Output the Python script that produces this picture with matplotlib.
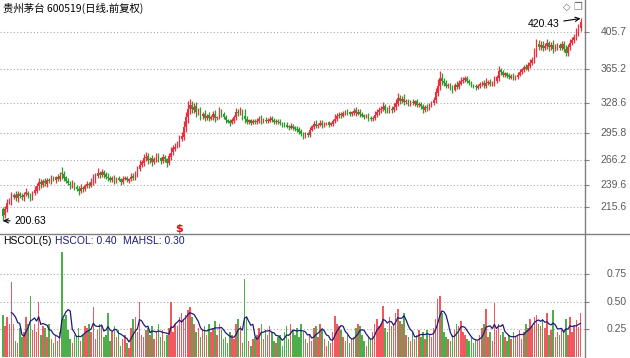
import matplotlib
matplotlib.use("Agg")
import matplotlib.pyplot as plt
import matplotlib.lines as mlines
import numpy as np
import pandas as pd
from matplotlib.transforms import blended_transform_factory

# The chart copies a trading-software screen, so the layout is kept in pixels
FIG_W, FIG_H = 630, 358
PLOT_RIGHT = 585      # x of the price scale divider
SPLIT_Y = 234         # y of the line between candles and indicator
FIRST_X = 3           # x of the first candle
BAR_STEP = 2.1        # pixels per trading day
LABEL_RIGHT = 627     # right edge of the scale labels

TITLE = "贵州茅台 600519(日线.前复权)"
IND_NAME = "HSCOL(5)"

closes = [
    206.0, 213.5, 219.8, 222.4, 226.9, 228.6, 225.3, 229.8, 227.1, 226.4,
    229.2, 231.5, 228.7, 226.3, 230.1, 233.8, 238.6, 242.9, 240.5, 243.7,
    241.2, 244.8, 243.9, 246.5, 245.1, 247.9, 246.3, 249.6, 251.2, 247.4,
    244.0, 241.6, 239.2, 240.8, 237.5, 235.3, 233.1, 236.4, 235.0, 238.6,
    240.2, 239.1, 242.8, 245.7, 249.3, 252.4, 250.1, 253.6, 250.8, 248.2,
    247.3, 244.9, 246.6, 243.8, 246.2, 245.4, 243.1, 245.9, 247.2, 244.6,
    246.1, 248.5, 247.0, 251.9, 257.3, 260.8, 264.1, 268.9, 270.4, 266.7,
    268.3, 264.9, 267.4, 270.8, 268.2, 265.5, 270.1, 267.3, 263.9, 270.6,
    274.8, 279.5, 281.2, 284.7, 288.9, 292.3, 302.6, 313.8, 322.4, 326.1,
    321.7, 324.8, 318.3, 320.6, 314.2, 316.9, 312.5, 314.8, 311.9, 313.4,
    316.2, 312.0, 313.1, 318.6, 316.4, 313.2, 309.8, 308.5, 307.2, 309.6,
    313.5, 318.9, 318.1, 320.3, 314.6, 311.2, 308.4, 309.7, 307.1, 308.8,
    307.9, 309.5, 311.3, 308.6, 310.2, 309.0, 309.8, 311.6, 310.4, 307.9,
    309.1, 308.2, 306.8, 305.1, 304.3, 303.0, 302.1, 303.4, 301.8, 300.2,
    299.6, 297.4, 295.1, 293.0, 295.3, 294.2, 299.8, 303.1, 305.6, 303.9,
    305.2, 306.8, 304.5, 305.9, 307.3, 305.0, 306.4, 309.2, 311.7, 314.3,
    316.0, 315.2, 317.8, 319.5, 318.1, 316.6, 318.4, 320.2, 317.5, 318.7,
    316.3, 314.9, 313.8, 315.6, 312.4, 311.0, 312.2, 315.9, 318.6, 320.9,
    322.4, 324.7, 321.5, 320.3, 322.1, 320.8, 324.6, 328.3, 333.5, 331.2,
    332.6, 329.8, 330.4, 327.6, 329.9, 328.1, 330.3, 326.7, 327.2, 324.9,
    321.6, 324.3, 323.0, 326.1, 328.4, 331.7, 340.2, 347.5, 355.3, 352.1,
    350.4, 347.6, 348.2, 345.3, 343.6, 347.9, 346.1, 349.8, 352.6, 354.0,
    355.4, 352.7, 350.1, 348.3, 347.0, 345.6, 347.2, 348.9, 349.7, 347.8,
    350.2, 351.6, 349.4, 350.8, 352.3, 356.5, 363.9, 361.8, 359.4, 360.7,
    358.1, 356.4, 358.3, 355.9, 357.2, 359.5, 362.8, 365.1, 367.3, 366.0,
    369.4, 372.1, 375.3, 383.8, 392.4, 389.6, 391.8, 388.7, 390.9, 393.5,
    389.2, 391.4, 387.3, 389.8, 391.0, 388.6, 392.2, 386.9, 383.4, 389.7,
    393.8, 397.2, 400.3, 405.6, 410.8, 416.2,
]

opens = [
    214.0, 206.5, 213.0, 220.5, 222.0, 227.0, 228.9, 225.0, 230.2, 227.5,
    226.0, 229.6, 231.0, 228.9, 226.0, 230.5, 233.4, 238.0, 243.3, 240.0,
    244.0, 241.0, 245.2, 243.5, 246.8, 245.0, 248.3, 246.0, 252.4, 251.5,
    247.8, 244.3, 241.0, 239.0, 241.2, 237.8, 235.6, 233.0, 236.8, 234.8,
    238.2, 240.6, 238.8, 242.5, 245.3, 249.0, 252.8, 250.0, 254.0, 251.0,
    248.6, 247.5, 244.5, 246.9, 243.5, 246.6, 245.7, 243.0, 246.0, 247.5,
    244.3, 246.0, 248.8, 246.8, 251.6, 257.0, 261.0, 263.8, 268.5, 270.9,
    266.5, 268.7, 264.5, 267.0, 271.2, 268.5, 265.3, 270.4, 267.8, 263.5,
    270.3, 275.0, 279.0, 281.5, 284.0, 289.5, 292.0, 302.0, 313.0, 321.8,
    326.5, 321.0, 325.2, 318.0, 321.0, 314.0, 317.2, 312.2, 315.3, 311.5,
    313.0, 316.5, 311.8, 313.4, 318.9, 316.8, 313.5, 310.0, 308.8, 307.0,
    309.4, 313.2, 318.6, 317.8, 320.1, 314.9, 311.5, 308.1, 310.0, 307.2,
    309.0, 307.6, 309.3, 311.6, 308.4, 310.5, 308.8, 309.5, 311.9, 310.6,
    307.6, 309.4, 308.5, 307.2, 305.5, 304.6, 303.3, 301.9, 303.6, 302.0,
    300.5, 299.9, 297.7, 295.4, 292.8, 295.6, 294.0, 299.5, 303.0, 305.8,
    303.6, 305.0, 307.1, 304.2, 305.6, 307.6, 304.8, 306.1, 309.0, 311.5,
    314.0, 316.3, 315.0, 317.5, 319.8, 318.4, 316.3, 318.0, 320.5, 317.2,
    319.0, 316.6, 315.2, 313.5, 315.9, 312.7, 310.7, 312.0, 315.5, 318.3,
    320.6, 322.0, 325.0, 321.8, 320.0, 322.5, 320.5, 324.3, 328.0, 333.8,
    331.0, 332.9, 329.6, 330.8, 327.4, 330.2, 327.8, 330.6, 326.5, 327.5,
    325.2, 321.3, 324.6, 322.8, 326.0, 328.6, 331.5, 340.0, 347.2, 355.8,
    352.4, 350.8, 347.3, 348.5, 345.6, 343.2, 348.3, 345.8, 349.5, 352.9,
    353.8, 355.6, 352.9, 350.4, 348.0, 347.3, 345.3, 347.0, 349.2, 350.0,
    347.5, 350.5, 351.8, 349.2, 350.6, 352.0, 356.3, 364.2, 362.0, 359.0,
    360.9, 358.5, 356.0, 358.6, 355.6, 357.0, 359.2, 362.5, 365.0, 367.6,
    365.7, 369.0, 371.8, 375.0, 383.5, 392.8, 389.2, 392.0, 388.5, 390.6,
    393.8, 389.0, 391.6, 387.0, 389.6, 391.3, 388.3, 392.5, 387.1, 383.0,
    389.5, 393.5, 397.0, 400.0, 405.3, 410.5,
]

# shadow lengths above the body top and below the body bottom
upper_shadow = [
    2.0, 3.6, 4.4, 2.8, 5.2, 2.4, 4.0, 3.0, 1.8, 3.2,
    2.6, 4.8, 2.2, 1.6, 3.4, 4.4, 2.8, 4.0, 2.4, 2.0,
    3.0, 2.2, 1.8, 3.6, 2.6, 1.4, 3.2, 4.2, 6.4, 2.8,
    1.8, 2.4, 3.0, 4.0, 1.6, 2.2, 2.6, 3.8, 1.4, 2.4,
    3.2, 2.0, 4.4, 5.6, 2.8, 5.2, 2.2, 3.6, 1.8, 2.6,
    4.4, 1.6, 2.8, 3.4, 2.0, 2.4, 1.2, 3.0, 2.2, 1.8,
    1.4, 3.6, 4.0, 3.2, 2.4, 6.2, 2.8, 3.8, 4.6, 3.0,
    2.0, 3.4, 2.4, 4.0, 2.8, 1.8, 3.2, 2.2, 1.6, 3.8,
    5.6, 3.0, 3.8, 2.6, 4.8, 4.4, 6.0, 5.2, 8.4, 7.0,
    4.8, 3.6, 4.4, 2.8, 3.2, 2.2, 3.8, 1.6, 3.0, 2.4,
    3.4, 4.6, 1.8, 5.2, 2.8, 2.0, 2.4, 1.4, 2.2, 3.0,
    2.6, 4.8, 4.0, 3.6, 2.4, 6.8, 3.4, 1.8, 1.6, 2.2,
    2.0, 2.6, 3.2, 4.4, 1.6, 2.8, 2.2, 3.4, 2.4, 1.8,
    1.6, 2.2, 2.8, 1.2, 2.4, 3.0, 1.8, 3.6, 2.6, 2.0,
    2.8, 2.4, 3.2, 2.2, 1.8, 1.4, 2.6, 1.6, 3.2, 3.8,
    2.2, 3.4, 2.6, 1.8, 1.2, 1.6, 1.4, 2.4, 4.8, 3.6,
    3.2, 2.6, 2.0, 1.8, 2.4, 1.6, 2.0, 2.6, 3.4, 3.8,
    3.6, 2.4, 1.8, 1.4, 2.0, 1.8, 2.6, 3.6, 4.0, 3.2,
    3.4, 5.2, 3.0, 2.4, 4.2, 3.2, 3.6, 4.8, 5.8, 3.4,
    3.2, 5.0, 2.2, 2.0, 1.8, 2.6, 2.0, 2.4, 3.0, 2.2,
    2.8, 1.8, 3.0, 2.4, 2.2, 3.2, 4.6, 6.8, 7.6, 5.2,
    3.0, 2.4, 2.0, 1.8, 2.4, 2.8, 3.8, 3.4, 4.0, 3.0,
    2.6, 2.0, 1.6, 2.2, 1.4, 2.0, 1.6, 2.4, 3.2, 3.8,
    5.4, 2.2, 2.8, 2.0, 6.0, 3.0, 4.4, 2.6, 2.8, 2.0,
    1.8, 2.6, 2.0, 2.8, 2.2, 2.4, 3.0, 2.0, 2.8, 3.8,
    3.4, 4.2, 3.6, 5.0, 5.6, 4.0, 3.8, 4.4, 3.2, 4.8,
    2.6, 3.0, 5.2, 2.4, 2.8, 2.6, 3.4, 3.0, 4.4, 2.8,
    4.6, 3.0, 3.6, 4.2, 3.2, 4.23,
]

lower_shadow = [
    5.37, 2.4, 3.2, 2.0, 4.0, 2.6, 3.4, 4.4, 2.2, 2.8,
    3.6, 2.0, 3.0, 4.6, 2.4, 1.8, 2.8, 3.6, 4.0, 2.2,
    2.4, 3.2, 2.0, 2.6, 1.6, 3.0, 2.2, 1.8, 4.8, 3.4,
    2.8, 2.0, 3.6, 2.4, 3.0, 2.2, 4.0, 1.8, 2.6, 2.0,
    2.4, 3.2, 1.8, 2.8, 3.6, 2.2, 3.0, 2.0, 3.4, 2.6,
    3.8, 2.4, 1.6, 3.0, 2.2, 1.8, 3.2, 2.4, 1.4, 2.0,
    2.8, 1.8, 2.4, 2.0, 3.2, 2.6, 2.2, 3.6, 3.0, 4.0,
    2.6, 4.2, 2.0, 2.4, 3.4, 2.8, 1.8, 3.0, 4.4, 2.2,
    3.2, 2.4, 2.8, 2.0, 3.4, 2.6, 4.0, 5.0, 6.0, 5.6,
    4.4, 3.0, 5.2, 2.6, 3.6, 2.4, 3.2, 2.2, 2.8, 1.8,
    2.4, 3.6, 2.0, 2.6, 3.0, 2.2, 2.8, 2.0, 3.2, 1.6,
    2.2, 2.8, 3.4, 2.4, 4.0, 4.4, 2.6, 2.0, 2.4, 1.8,
    2.2, 1.6, 2.0, 2.4, 1.8, 2.6, 1.4, 2.0, 2.8, 2.2,
    1.8, 2.4, 1.6, 2.2, 2.0, 1.4, 2.6, 1.8, 2.4, 2.0,
    2.6, 3.0, 2.2, 3.6, 2.4, 2.0, 2.8, 1.8, 2.4, 2.6,
    2.0, 1.6, 2.8, 1.8, 1.4, 2.2, 1.6, 2.0, 2.6, 2.4,
    2.2, 3.0, 1.8, 2.4, 2.0, 2.6, 1.6, 2.2, 2.8, 1.8,
    2.6, 2.0, 2.8, 1.6, 3.2, 2.4, 1.8, 2.0, 2.4, 2.2,
    3.0, 2.6, 3.6, 2.4, 2.0, 2.8, 2.2, 3.2, 2.6, 4.0,
    2.4, 3.4, 2.0, 2.6, 1.8, 2.2, 2.8, 2.0, 2.4, 3.2,
    3.6, 2.2, 2.6, 2.0, 1.8, 2.4, 3.0, 4.2, 4.8, 4.0,
    3.2, 2.8, 2.2, 2.6, 3.6, 2.0, 2.4, 2.2, 1.8, 2.6,
    2.2, 2.8, 2.4, 2.0, 2.6, 3.0, 2.0, 1.6, 2.2, 2.4,
    2.8, 2.0, 2.4, 1.8, 3.2, 2.2, 3.6, 2.8, 2.4, 2.0,
    2.6, 2.2, 1.8, 2.8, 2.0, 2.4, 1.6, 2.2, 2.6, 2.0,
    2.4, 2.8, 2.2, 3.2, 4.4, 3.6, 3.0, 4.0, 2.6, 3.2,
    3.8, 2.8, 4.6, 2.4, 3.0, 2.2, 2.6, 3.2, 4.2, 2.8,
    3.0, 2.4, 3.4, 2.8, 3.8, 3.2,
]

# daily turnover indicator (HSCOL)
hscol = [
    0.38, 0.28, 0.36, 0.30, 0.68, 0.30, 0.14, 0.12, 0.26, 0.18,
    0.22, 0.36, 0.30, 0.55, 0.24, 0.30, 0.22, 0.50, 0.20, 0.28,
    0.26, 0.18, 0.30, 0.16, 0.12, 0.20, 0.14, 0.22, 0.95, 0.34,
    0.38, 0.24, 0.16, 0.12, 0.20, 0.18, 0.26, 0.14, 0.20, 0.28,
    0.26, 0.30, 0.22, 0.45, 0.16, 0.24, 0.30, 0.28, 0.18, 0.20,
    0.40, 0.14, 0.22, 0.28, 0.18, 0.24, 0.10, 0.16, 0.20, 0.12,
    0.08, 0.26, 0.34, 0.36, 0.22, 0.50, 0.20, 0.18, 0.24, 0.26,
    0.20, 0.28, 0.16, 0.22, 0.30, 0.18, 0.24, 0.14, 0.20, 0.26,
    0.50, 0.22, 0.30, 0.28, 0.36, 0.40, 0.34, 0.38, 0.42, 0.45,
    0.36, 0.30, 0.22, 0.26, 0.18, 0.24, 0.28, 0.20, 0.30, 0.22,
    0.26, 0.32, 0.20, 0.30, 0.24, 0.16, 0.18, 0.12, 0.22, 0.20,
    0.16, 0.30, 0.34, 0.28, 0.12, 0.70, 0.36, 0.14, 0.10, 0.16,
    0.18, 0.20, 0.26, 0.30, 0.16, 0.24, 0.20, 0.28, 0.22, 0.14,
    0.12, 0.18, 0.20, 0.10, 0.22, 0.28, 0.16, 0.30, 0.24, 0.20,
    0.26, 0.18, 0.30, 0.22, 0.16, 0.12, 0.20, 0.14, 0.26, 0.28,
    0.18, 0.30, 0.24, 0.16, 0.10, 0.14, 0.12, 0.22, 0.37, 0.30,
    0.28, 0.24, 0.18, 0.14, 0.20, 0.12, 0.16, 0.18, 0.26, 0.30,
    0.28, 0.20, 0.14, 0.10, 0.18, 0.16, 0.22, 0.30, 0.34, 0.28,
    0.30, 0.46, 0.26, 0.22, 0.36, 0.28, 0.30, 0.40, 0.43, 0.32,
    0.30, 0.40, 0.20, 0.18, 0.14, 0.22, 0.16, 0.20, 0.24, 0.18,
    0.22, 0.16, 0.24, 0.20, 0.18, 0.26, 0.34, 0.52, 0.55, 0.40,
    0.22, 0.18, 0.16, 0.14, 0.20, 0.24, 0.30, 0.28, 0.32, 0.22,
    0.20, 0.16, 0.14, 0.18, 0.12, 0.16, 0.14, 0.20, 0.26, 0.30,
    0.43, 0.18, 0.22, 0.14, 0.49, 0.24, 0.30, 0.20, 0.22, 0.18,
    0.14, 0.20, 0.16, 0.22, 0.18, 0.20, 0.24, 0.16, 0.22, 0.30,
    0.26, 0.34, 0.28, 0.36, 0.38, 0.30, 0.28, 0.34, 0.26, 0.40,
    0.20, 0.24, 0.42, 0.18, 0.22, 0.20, 0.26, 0.24, 0.34, 0.20,
    0.36, 0.22, 0.28, 0.33, 0.27, 0.40,
]

price_ticks = [215.6, 239.6, 266.2, 295.8, 328.6, 365.2, 405.7]
hscol_ticks = [0.25, 0.50, 0.75]
price_range = (186.3, 440.5)
hscol_range = (-0.0136, 1.1136)
signal_bar = 84   # day flagged with the red "$" mark
ma_period = 5

UP_RED = "#ec2f3f"
DOWN_GREEN = "#2c9a2c"
BAR_RED = "#f05a5e"
BAR_GREEN = "#4caf4c"
NAVY = "#1c1c78"
FRAME = "#808080"
GRID = "#a8a8a8"
LABEL_GREY = "#5a5a5a"
LATIN = "Liberation Sans"
CJK = ["Noto Sans CJK SC", "DejaVu Sans"]


def px_box(left, top, right, bottom):
    """Turn a pixel box (top-left origin) into a figure-fraction rect."""
    return [left / FIG_W, 1 - bottom / FIG_H,
            (right - left) / FIG_W, (bottom - top) / FIG_H]


def style_panel(ax, ticks, labels):
    """Dotted grid, outward right ticks and right-aligned scale labels."""
    ax.set_xticks([])
    ax.set_yticks(ticks)
    ax.tick_params(axis="y", left=False, right=True, labelleft=False,
                   labelright=False, direction="out", length=3,
                   width=0.8, color=FRAME)
    for spine in ("top", "left", "bottom"):
        ax.spines[spine].set_visible(False)
    ax.spines["right"].set_color(FRAME)
    ax.spines["right"].set_linewidth(1.0)
    for t in ticks:
        ax.axhline(t, color=GRID, lw=0.8, ls=(0, (1, 2)), zorder=0)
    trans = blended_transform_factory(ax.transAxes, ax.transData)
    for t, lab in zip(ticks, labels):
        ax.text(LABEL_RIGHT / PLOT_RIGHT, t, lab, transform=trans,
                ha="right", va="center", fontsize=7.5, family=LATIN,
                color=LABEL_GREY, clip_on=False)


o = np.array(opens)
c = np.array(closes)
assert len(o) == len(c) == len(upper_shadow) == len(lower_shadow) == len(hscol)
highs = np.maximum(o, c) + np.array(upper_shadow)
lows = np.minimum(o, c) - np.array(lower_shadow)
days = np.arange(len(c))
rising = c >= o
candle_colors = np.where(rising, UP_RED, DOWN_GREEN)
bar_colors = np.where(rising, BAR_RED, BAR_GREEN)
mahsl = pd.Series(hscol).rolling(ma_period).mean()

x_range = (-FIRST_X / BAR_STEP, (PLOT_RIGHT - FIRST_X) / BAR_STEP)

fig = plt.figure(figsize=(FIG_W / 100, FIG_H / 100), dpi=100)
fig.patch.set_facecolor("white")

# ---- candle panel ----
ax = fig.add_axes(px_box(0, 0, PLOT_RIGHT, SPLIT_Y))
ax.set_xlim(*x_range)
ax.set_ylim(*price_range)
style_panel(ax, price_ticks, [f"{t:.1f}" for t in price_ticks])

ax.vlines(days, lows, highs, colors=candle_colors, lw=0.9, zorder=2)
body = np.maximum(np.abs(c - o), 0.5)
ax.bar(days, body, bottom=np.minimum(o, c), width=0.75,
       color=candle_colors, linewidth=0, zorder=3)

ax.text(FIRST_X / PLOT_RIGHT, 1 - 8 / SPLIT_Y, TITLE, transform=ax.transAxes,
        ha="left", va="center", fontsize=7.5, family=CJK, color="black")

lo_i = int(np.argmin(lows))
hi_i = int(np.argmax(highs))
ax.annotate(f"{lows[lo_i]:.2f}", xy=(lo_i, lows[lo_i]), xytext=(8, 0),
            textcoords="offset points", ha="left", va="center",
            fontsize=7.5, family=LATIN, color="black",
            arrowprops=dict(arrowstyle="->", lw=0.8, color="black",
                            shrinkA=1, shrinkB=0))
ax.annotate(f"{highs[hi_i]:.2f}", xy=(hi_i, highs[hi_i]), xytext=(-15, -4),
            textcoords="offset points", ha="right", va="center",
            fontsize=7.5, family=LATIN, color="black",
            arrowprops=dict(arrowstyle="->", lw=0.8, color="black",
                            shrinkA=1, shrinkB=0))

mark_trans = blended_transform_factory(ax.transData, ax.transAxes)
ax.text(signal_bar, 0.0, r"\$", transform=mark_trans, ha="center",
        va="bottom", fontsize=8, fontweight="bold", color="#e01010",
        family="DejaVu Sans")

fig.text(567 / FIG_W, 1 - 7 / FIG_H, "\u25c7", ha="center", va="center",
         fontsize=7, color="#707070", family="DejaVu Sans")
fig.text(578 / FIG_W, 1 - 7 / FIG_H, "\u2750", ha="center", va="center",
         fontsize=7, color="#707070", family="DejaVu Sans")

# ---- indicator panel ----
ax2 = fig.add_axes(px_box(0, SPLIT_Y, PLOT_RIGHT, FIG_H))
ax2.set_xlim(*x_range)
ax2.set_ylim(*hscol_range)
style_panel(ax2, hscol_ticks, [f"{t:.2f}" for t in hscol_ticks])

ax2.bar(days, hscol, width=0.7, color=bar_colors, linewidth=0, zorder=2)
ax2.plot(days, mahsl, color=NAVY, lw=0.9, zorder=3)

label_y = 1 - 7 / (FIG_H - SPLIT_Y)
ax2.text(3 / PLOT_RIGHT, label_y, IND_NAME, transform=ax2.transAxes,
         ha="left", va="center", fontsize=7.5, family=LATIN, color="black")
ax2.text(55 / PLOT_RIGHT, label_y, f"HSCOL: {hscol[-1]:.2f}",
         transform=ax2.transAxes, ha="left", va="center", fontsize=7.5,
         family=LATIN, color=NAVY)
ax2.text(123 / PLOT_RIGHT, label_y, f"MAHSL: {mahsl.iloc[-1]:.2f}",
         transform=ax2.transAxes, ha="left", va="center", fontsize=7.5,
         family=LATIN, color=NAVY)

# divider between the two panels, running through the scale strip
split = 1 - SPLIT_Y / FIG_H
fig.add_artist(mlines.Line2D([0, 1], [split, split], color=FRAME, lw=1.0))

fig.savefig("out.png", dpi=100, facecolor="white")
